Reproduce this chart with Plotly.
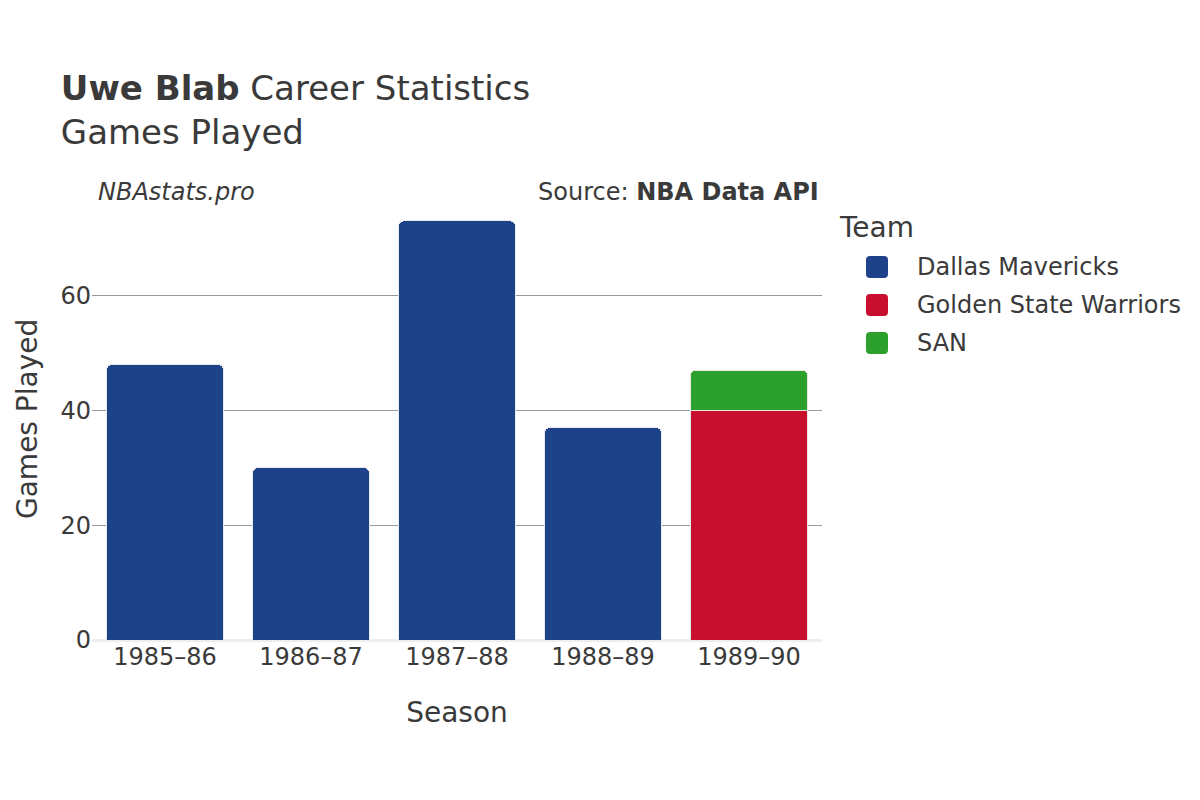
import plotly.graph_objects as go

seasons = ["1985–86", "1986–87", "1987–88", "1988–89", "1989–90"]
teams = ["Dallas Mavericks", "Golden State Warriors", "SAN"]
games = {
    "Dallas Mavericks": [48, 30, 73, 37, None],
    "Golden State Warriors": [None, None, None, None, 40],
    "SAN": [None, None, None, None, 7],
}
team_colors = {
    "Dallas Mavericks": "#1D428A",
    "Golden State Warriors": "#C8102E",
    "SAN": "#2CA02C",
}

font_family = "DejaVu Sans"
text_color = "#3a3a3a"

# plot area in figure pixels (used to place the hand-drawn legend)
PLOT_L, PLOT_W, PLOT_B, PLOT_H = 84, 730, 632, 440


def px_x(px):
    return (px - PLOT_L) / PLOT_W


def px_y(py):
    return (PLOT_B - py) / PLOT_H


fig = go.Figure()
for team in teams:
    fig.add_trace(go.Bar(
        x=seasons, y=games[team], name=team,
        marker=dict(color=team_colors[team], line=dict(color="#e8e8e8", width=1)),
        showlegend=False,
    ))

# legend drawn by hand so the swatches match the larger rounded squares
swatch = ("M -7,-11 L 7,-11 Q 11,-11 11,-7 L 11,7 Q 11,11 7,11 "
          "L -7,11 Q -11,11 -11,7 L -11,-7 Q -11,-11 -7,-11 Z")
shapes = []
annotations = [
    dict(text="Team", xref="paper", yref="paper", x=px_x(829), y=px_y(219),
         xanchor="left", yanchor="middle", showarrow=False, font=dict(size=28)),
]
for i, team in enumerate(teams):
    cy = 259 + 38 * i
    shapes.append(dict(
        type="path", path=swatch, xref="paper", yref="paper",
        xsizemode="pixel", ysizemode="pixel",
        xanchor=px_x(869), yanchor=px_y(cy),
        fillcolor=team_colors[team], line=dict(width=0),
    ))
    annotations.append(dict(
        text=team, xref="paper", yref="paper", x=px_x(907), y=px_y(cy),
        xanchor="left", yanchor="middle", showarrow=False, font=dict(size=24),
    ))

annotations += [
    dict(text="<i>NBAstats.pro</i>", xref="paper", yref="paper",
         x=0.005, y=px_y(184), xanchor="left", yanchor="middle",
         showarrow=False, font=dict(size=24)),
    dict(text="Source: <b>NBA Data API</b>", xref="paper", yref="paper",
         x=0.999, y=px_y(184), xanchor="right", yanchor="middle",
         showarrow=False, font=dict(size=24)),
    # y axis title as an annotation so it sits left of the tick labels
    dict(text="Games Played", xref="paper", yref="paper",
         x=px_x(19), y=px_y(411), xanchor="center", yanchor="middle",
         textangle=-90, showarrow=False, font=dict(size=28)),
]

fig.update_layout(
    barmode="stack",
    bargap=0.2,
    barcornerradius=5,
    width=1200, height=800,
    margin=dict(l=PLOT_L, r=1200 - PLOT_L - PLOT_W, t=PLOT_B - PLOT_H, b=800 - PLOT_B),
    paper_bgcolor="white",
    plot_bgcolor="white",
    font=dict(family=font_family, color=text_color, size=24),
    title=dict(
        text="<b>Uwe Blab</b> Career Statistics<br>Games Played",
        x=0.044, xanchor="left", y=0.885, yanchor="top",
        font=dict(size=34),
    ),
    showlegend=False,
    xaxis=dict(
        title=dict(text="Season", font=dict(size=28), standoff=32),
        tickfont=dict(size=24),
        showgrid=False,
        automargin=False,
    ),
    yaxis=dict(
        tickfont=dict(size=24),
        range=[0, 76.65],
        tickvals=[0, 20, 40, 60],
        gridcolor="#999999",
        zeroline=True, zerolinecolor="#eeeeee", zerolinewidth=3,
        automargin=False,
    ),
    shapes=shapes,
    annotations=annotations,
)

fig.write_html("out.html")
